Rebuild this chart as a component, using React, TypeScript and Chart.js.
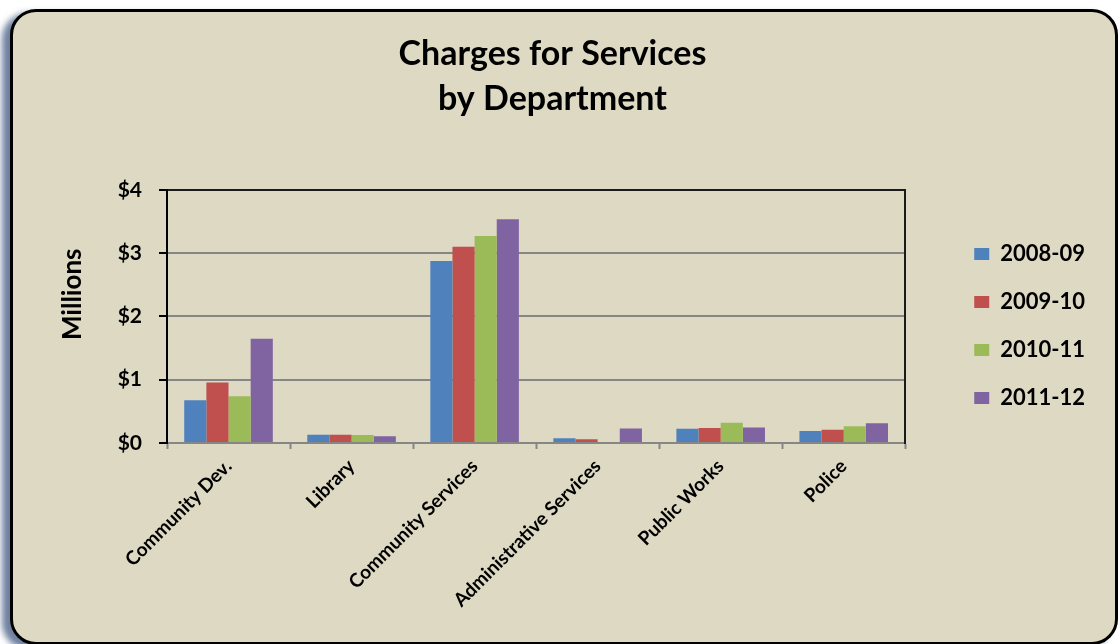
import React, { useEffect, useRef } from 'react';
import { Chart, registerables } from 'chart.js';

Chart.register(...registerables);

const departments = ['Community Dev.', 'Library', 'Community Services', 'Administrative Services', 'Public Works', 'Police'];
const seriesLabels = ['2008-09', '2009-10', '2010-11', '2011-12'];
const fy0809 = [0.675, 0.13, 2.875, 0.075, 0.225, 0.19];
const fy0910 = [0.955, 0.13, 3.1, 0.06, 0.235, 0.21];
const fy1011 = [0.74, 0.125, 3.27, 0, 0.32, 0.265];
const fy1112 = [1.645, 0.105, 3.535, 0.23, 0.245, 0.31];
const seriesColors = ['#4F81BD', '#C0504D', '#9BBB59', '#8064A2'];
const yMin = 0;
const yMax = 4;
const yStep = 1;
const titleLines = ['Charges for Services', 'by Department'];
const yAxisTitle = '       Millions';

const FONT = 'Lato, "Open Sans", sans-serif';

export default function App() {
  const ref = useRef<HTMLCanvasElement>(null);

  useEffect(() => {
    const values = [fy0809, fy0910, fy1011, fy1112];
    const chart = new Chart(ref.current as HTMLCanvasElement, {
      type: 'bar',
      data: {
        labels: departments,
        datasets: seriesLabels.map((label, i) => ({
          label,
          data: values[i],
          backgroundColor: seriesColors[i],
          borderWidth: 0,
          categoryPercentage: 0.72,
          barPercentage: 1,
        })),
      },
      options: {
        responsive: false,
        animation: false,
        devicePixelRatio: 1,
        layout: { padding: { left: 10, right: 25, top: 8, bottom: 0 } },
        plugins: {
          title: {
            display: true,
            text: titleLines,
            color: '#000',
            font: { family: FONT, size: 34, weight: 'bold', lineHeight: 1.32 },
            padding: { top: 24, bottom: 68 },
          },
          legend: {
            display: true,
            position: 'right',
            labels: {
              color: '#000',
              font: { family: FONT, size: 22, weight: 'bold' },
              boxWidth: 15,
              boxHeight: 12,
              padding: 26,
            },
          },
          tooltip: { enabled: false },
        },
        scales: {
          x: {
            grid: {
              display: true,
              drawOnChartArea: false,
              drawTicks: true,
              tickLength: 6,
              tickColor: '#868686',
              tickWidth: 2,
            },
            border: { display: true, color: '#868686', width: 2 },
            ticks: {
              autoSkip: false,
              minRotation: 45,
              maxRotation: 45,
              color: '#000',
              padding: 6,
              font: { family: FONT, size: 19, weight: 'bold' },
            },
            afterFit: (s: any) => {
              s.height = 201;
            },
          },
          y: {
            min: yMin,
            max: yMax,
            ticks: {
              stepSize: yStep,
              color: '#000',
              padding: 17,
              font: { family: FONT, size: 21, weight: 'bold' },
              callback: (v: any) => '$' + v,
            },
            grid: {
              color: (c: any) => (c.tick && c.tick.value === yMax ? '#1a1a1a' : '#868686'),
              lineWidth: 2,
              tickLength: 8,
              tickColor: '#000',
              tickWidth: 2,
            },
            border: { display: true, color: '#000', width: 2 },
            title: {
              display: true,
              text: yAxisTitle,
              color: '#000',
              font: { family: FONT, size: 26, weight: 'bold' },
              padding: { top: 47, bottom: 0 },
            },
            afterFit: (s: any) => {
              s.width = 157;
            },
          },
          yRightEdge: {
            type: 'linear',
            position: 'right',
            display: true,
            grid: { display: false, drawTicks: false },
            ticks: { display: false },
            border: { display: true, color: '#1a1a1a', width: 2 },
            afterFit: (s: any) => {
              s.width = 43;
            },
          },
        },
      } as any,
    });
    return () => chart.destroy();
  }, []);

  return (
    <div style={{ position: 'fixed', left: 0, top: 0, width: 1120, height: 644, background: '#fff', overflow: 'hidden' }}>
      <div
        style={{
          position: 'absolute',
          left: 10,
          top: 9,
          width: 1108,
          height: 636,
          boxSizing: 'border-box',
          border: '3px solid #000',
          borderRadius: 26,
          background: '#DDD9C3',
          boxShadow: '-8px 4px 6px rgba(50,75,120,0.7)',
        }}
      />
      <canvas
        ref={ref}
        width={1120}
        height={644}
        style={{ position: 'absolute', left: 0, top: 0, width: 1120, height: 644, display: 'block' }}
      />
    </div>
  );
}
